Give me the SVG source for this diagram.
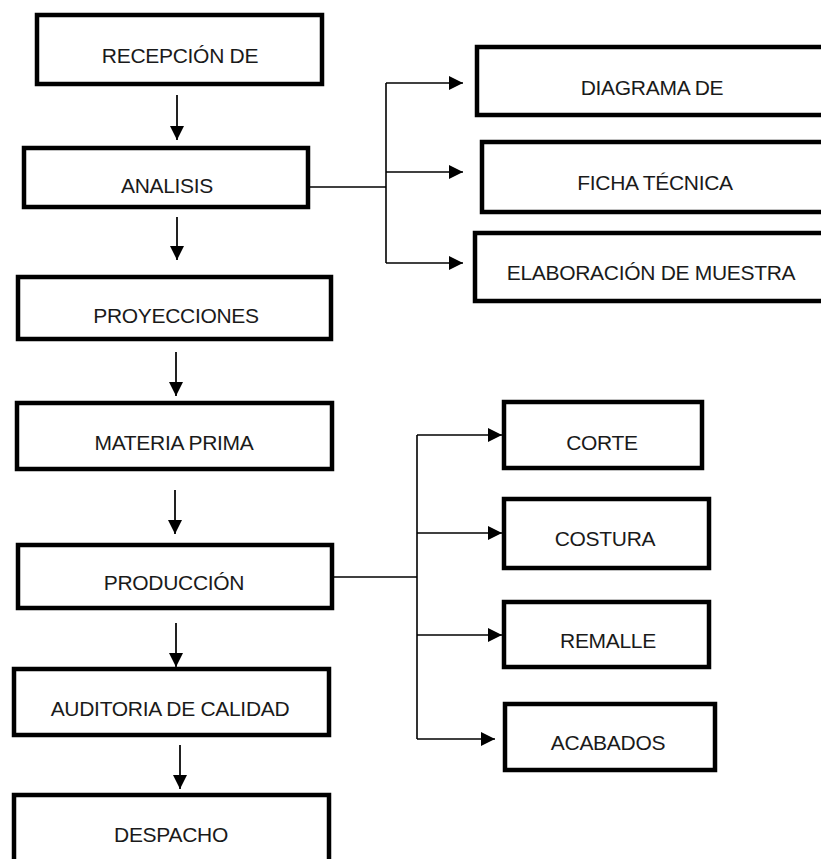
<svg xmlns="http://www.w3.org/2000/svg" width="821" height="859" viewBox="0 0 821 859">
<defs>
<style>
.box{fill:#fff;stroke:#000;stroke-width:4.5}
.t{font-family:"Liberation Sans",Arial,sans-serif;font-size:21px;fill:#1a1a1a;text-anchor:middle;letter-spacing:-0.3px}
.c{fill:none;stroke:#000;stroke-width:1.6}
.v{fill:none;stroke:#222;stroke-width:2}
</style>
<marker id="ah" viewBox="0 0 10 10" refX="10" refY="5" markerWidth="14" markerHeight="14" markerUnits="userSpaceOnUse" orient="auto">
<path d="M0,0 L10,5 L0,10 Z" fill="#000"/>
</marker>
</defs>
<rect width="821" height="859" fill="#fff"/>
<g id="n-recepcion"><rect class="box" x="37" y="15" width="285" height="69"/><text class="t" x="180" y="63">RECEPCIÓN DE</text></g>
<g id="n-analisis"><rect class="box" x="24" y="148" width="284" height="59"/><text class="t" x="167" y="193">ANALISIS</text></g>
<g id="n-proyecciones"><rect class="box" x="18" y="277" width="313" height="62"/><text class="t" x="176" y="323">PROYECCIONES</text></g>
<g id="n-materia"><rect class="box" x="17" y="403" width="315" height="66"/><text class="t" x="174" y="450">MATERIA PRIMA</text></g>
<g id="n-produccion"><rect class="box" x="18" y="545" width="314" height="63"/><text class="t" x="174" y="590">PRODUCCIÓN</text></g>
<g id="n-auditoria"><rect class="box" x="14" y="669" width="315" height="66"/><text class="t" x="170" y="716">AUDITORIA DE CALIDAD</text></g>
<g id="n-despacho"><rect class="box" x="14" y="795" width="315" height="80"/><text class="t" x="171" y="842">DESPACHO</text></g>
<g id="n-diagrama"><rect class="box" x="477" y="47" width="360" height="68"/><text class="t" x="652" y="95">DIAGRAMA DE</text></g>
<g id="n-ficha"><rect class="box" x="482" y="142" width="360" height="70"/><text class="t" x="655" y="190">FICHA TÉCNICA</text></g>
<g id="n-elaboracion"><rect class="box" x="475" y="233" width="360" height="68"/><text class="t" x="651" y="280">ELABORACIÓN DE MUESTRA</text></g>
<g id="n-corte"><rect class="box" x="504" y="402" width="198" height="66"/><text class="t" x="602" y="450">CORTE</text></g>
<g id="n-costura"><rect class="box" x="504" y="499" width="205" height="69"/><text class="t" x="605" y="546">COSTURA</text></g>
<g id="n-remalle"><rect class="box" x="504" y="602" width="205" height="65"/><text class="t" x="608" y="648">REMALLE</text></g>
<g id="n-acabados"><rect class="box" x="505" y="704" width="210" height="66"/><text class="t" x="608" y="750">ACABADOS</text></g>
<g id="connectors">
<line class="v" x1="177" y1="95" x2="177" y2="140" marker-end="url(#ah)"/>
<line class="v" x1="177" y1="217" x2="177" y2="260" marker-end="url(#ah)"/>
<line class="v" x1="176" y1="352" x2="176" y2="396" marker-end="url(#ah)"/>
<line class="v" x1="175" y1="490" x2="175" y2="534" marker-end="url(#ah)"/>
<line class="v" x1="176" y1="623" x2="176" y2="667" marker-end="url(#ah)"/>
<line class="v" x1="180" y1="745" x2="180" y2="789" marker-end="url(#ah)"/>
<polyline class="c" points="310,187 386,187"/>
<polyline class="c" points="386,83 386,263"/>
<line class="c" x1="386" y1="83" x2="463" y2="83" marker-end="url(#ah)"/>
<line class="c" x1="386" y1="172" x2="463" y2="172" marker-end="url(#ah)"/>
<line class="c" x1="386" y1="263" x2="463" y2="263" marker-end="url(#ah)"/>
<polyline class="c" points="333,577 417,577"/>
<polyline class="c" points="417,435 417,739"/>
<line class="c" x1="417" y1="435" x2="502" y2="435" marker-end="url(#ah)"/>
<line class="c" x1="417" y1="533" x2="502" y2="533" marker-end="url(#ah)"/>
<line class="c" x1="417" y1="635" x2="502" y2="635" marker-end="url(#ah)"/>
<line class="c" x1="417" y1="739" x2="495" y2="739" marker-end="url(#ah)"/>
</g>
</svg>
